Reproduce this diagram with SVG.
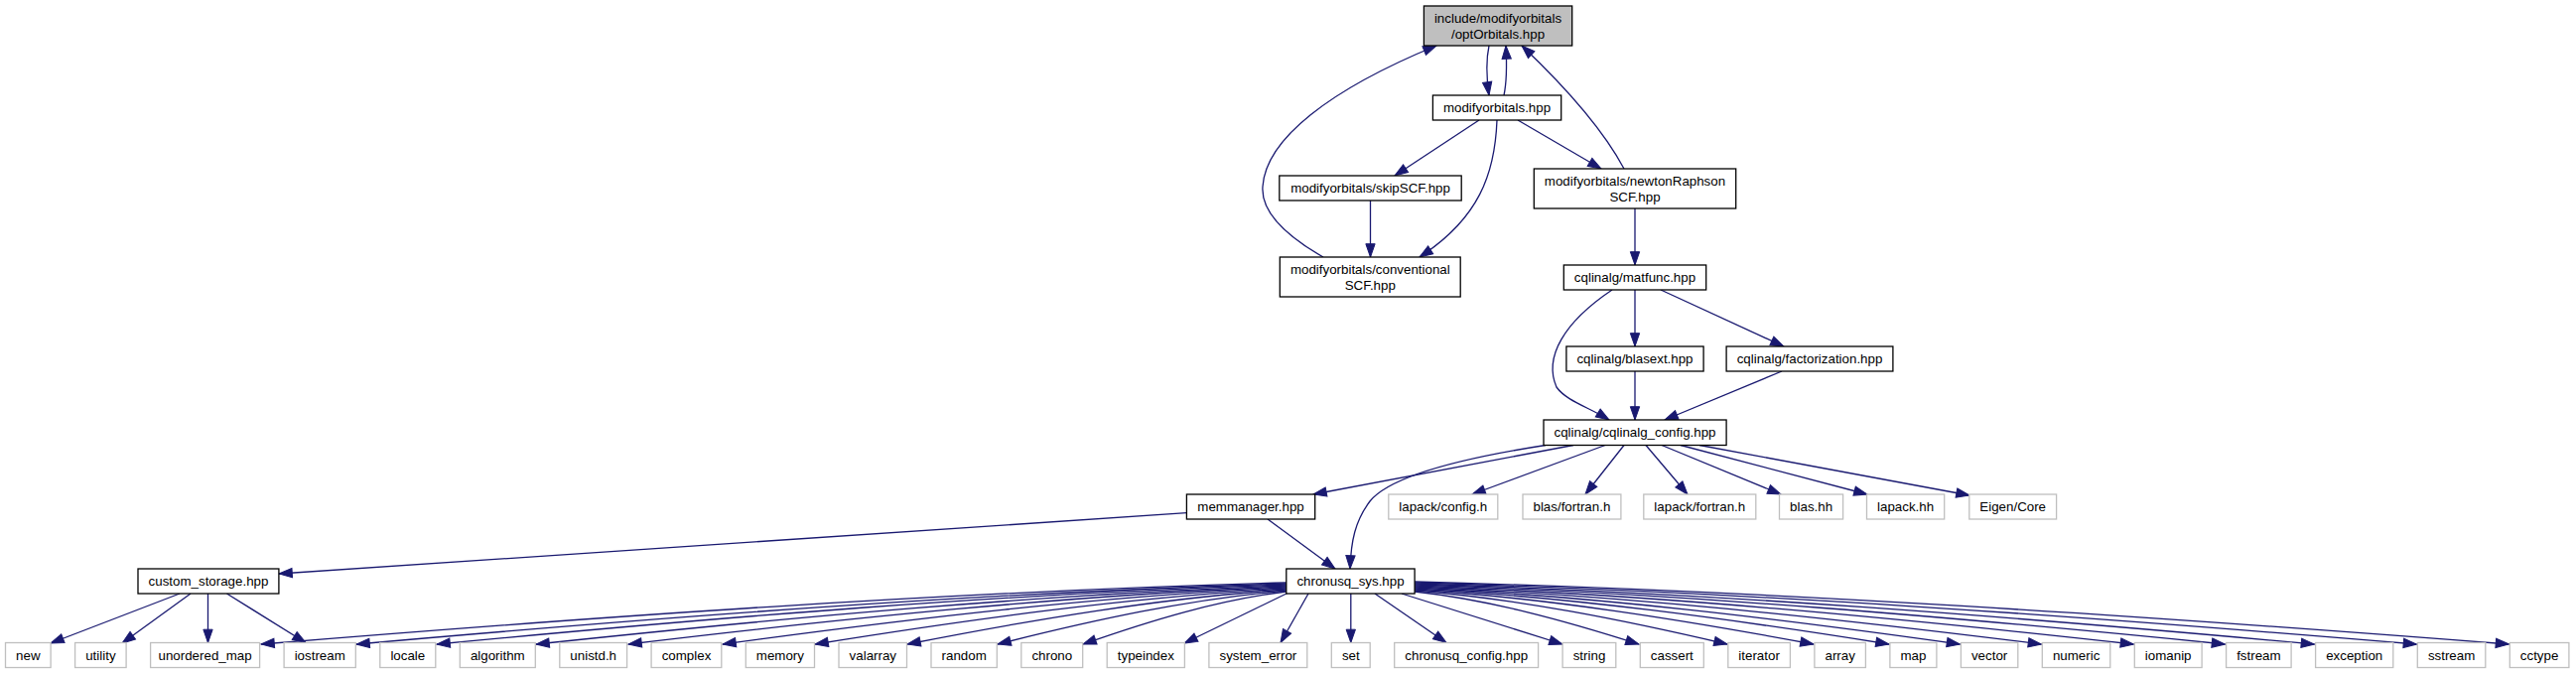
<svg xmlns="http://www.w3.org/2000/svg" width="2595" height="679" viewBox="0 0 2595 679">
<style>
text{font-family:"Liberation Sans",Arial,Helvetica,sans-serif;font-size:13.33px;fill:#000;text-anchor:middle}
.d{fill:#fff;stroke:#000;stroke-width:1.3}
.r{fill:#bfbfbf;stroke:#000;stroke-width:1.3}
.u{fill:#fff;stroke:#bfbfbf;stroke-width:1.3}
#edges path{fill:none;stroke:#191970;stroke-width:1.3;marker-end:url(#ah)}
</style>
<defs>
<marker id="ah" markerUnits="userSpaceOnUse" markerWidth="16" markerHeight="12" refX="13.3" refY="4.65" orient="auto" overflow="visible">
<path d="M0,0 L13.3,4.65 L0,9.3 z" fill="#191970" stroke="#191970" stroke-width="1"/>
</marker>
</defs>
<rect width="2595" height="679" fill="#fff"/>
<g id="edges">
<path d="M1500,46 C1497,60 1497,75 1500,96"/>
<path d="M1515,96 C1518,82 1518,65 1517,46"/>
<path d="M1333,259 C1300,240 1270,215 1272,188 C1275,140 1340,90 1447,46"/>
<path d="M1636,170 C1620,140 1590,100 1533,46"/>
<path d="M1490,121 L1405,177"/>
<path d="M1508,121 C1506,175 1490,220 1430,259"/>
<path d="M1529,121 L1613,170"/>
<path d="M1380.5,202 L1380.5,259"/>
<path d="M1647,210 L1647,267"/>
<path d="M1647,292 L1647,349"/>
<path d="M1673,292 L1797,349"/>
<path d="M1624,292 C1575,325 1555,360 1568,390 C1578,404 1600,410 1621,423"/>
<path d="M1647,374 L1647,423"/>
<path d="M1795,374 L1677,423"/>
<path d="M1585,448.5 L1323,498"/>
<path d="M1557,448.5 C1470,462 1400,480 1380,505 C1365,525 1361,545 1360,573"/>
<path d="M1617,448.5 L1483,498"/>
<path d="M1636,448.5 L1597,498"/>
<path d="M1658,448.5 L1700,498"/>
<path d="M1674,448.5 L1794,498"/>
<path d="M1693,448.5 L1881,498"/>
<path d="M1712,448.5 L1984,499"/>
<path d="M1195.4,516.7 L281,578"/>
<path d="M1277,523 L1345,573"/>
<path d="M181,598 L51,648"/>
<path d="M192,598 L123,648"/>
<path d="M209.5,598 L209.5,647.5"/>
<path d="M228.5,598 L308,647.5"/>
<path d="M1296,587 C955.1,596.3 603.9,621.1 263,649"/>
<path d="M1296,588 C986.8,597.2 668.2,621.6 359,649"/>
<path d="M1296,589 C1013.5,598 722.5,622 440,649"/>
<path d="M1296,590 C1046.5,598.9 789.5,622.5 540,649"/>
<path d="M1296,591 C1077.2,599.7 851.8,622.9 633,649"/>
<path d="M1296,592 C1108.6,600.6 915.4,623.4 728,649"/>
<path d="M1296,593 C1139.3,601.4 977.8,623.8 821,649"/>
<path d="M1296,594 C1170,602.3 1040,624.3 914,649"/>
<path d="M1296,595 C1200,603.1 1101,624.7 1005,649"/>
<path d="M1296,596 C1228.4,604 1158.7,625.2 1091,649"/>
<path d="M1298,597 L1193,648"/>
<path d="M1318,598 L1290,647.5"/>
<path d="M1360.8,598 L1360.8,647.5"/>
<path d="M1385,598 L1457,647.5"/>
<path d="M1412,598 L1574,649"/>
<path d="M1425,596 C1499.6,604 1576.4,625.2 1651,649"/>
<path d="M1425,595 C1529,603.1 1636,624.7 1740,649"/>
<path d="M1425,594 C1557.7,602.3 1694.3,624.3 1827,649"/>
<path d="M1425,593 C1582.7,601.4 1745.3,623.8 1903,649"/>
<path d="M1425,592 C1606.3,600.6 1793.2,623.4 1974.5,649"/>
<path d="M1425,591 C1633.4,599.7 1848.1,622.9 2056.5,649"/>
<path d="M1425,590 C1664.1,598.9 1910.4,622.5 2149.5,649"/>
<path d="M1425,589 C1694.4,598 1972,622 2241.5,649"/>
<path d="M1425,588 C1724.1,597.2 2032.4,621.6 2331.5,649"/>
<path d="M1425,587 C1758.1,596.3 2101.4,621.1 2434.5,649"/>
<path d="M1425,586 C1788.8,595.5 2163.7,620.7 2527.5,649"/>
</g>
<g id="n_opt"><rect class="r" x="1434.4" y="6" width="149.3" height="40"/><text x="1509" y="22.5">include/modifyorbitals</text><text x="1509" y="38.5">/optOrbitals.hpp</text></g>
<g id="n_modorb"><rect class="d" x="1443.4" y="96" width="129.3" height="25"/><text x="1508" y="113.2">modifyorbitals.hpp</text></g>
<g id="n_skip"><rect class="d" x="1288.8" y="177" width="183.4" height="25"/><text x="1380.5" y="194.2">modifyorbitals/skipSCF.hpp</text></g>
<g id="n_newton"><rect class="d" x="1545.3" y="170" width="203.4" height="40"/><text x="1647" y="186.5">modifyorbitals/newtonRaphson</text><text x="1647" y="202.5">SCF.hpp</text></g>
<g id="n_conv"><rect class="d" x="1289.3" y="259" width="181.9" height="40"/><text x="1380.3" y="275.5">modifyorbitals/conventional</text><text x="1380.3" y="291.5">SCF.hpp</text></g>
<g id="n_matfunc"><rect class="d" x="1575.3" y="267" width="143.4" height="25"/><text x="1647" y="284.2">cqlinalg/matfunc.hpp</text></g>
<g id="n_blasext"><rect class="d" x="1577.9" y="349" width="138.2" height="25"/><text x="1647" y="366.2">cqlinalg/blasext.hpp</text></g>
<g id="n_fact"><rect class="d" x="1739.1" y="349" width="167.8" height="25"/><text x="1823" y="366.2">cqlinalg/factorization.hpp</text></g>
<g id="n_cqcfg"><rect class="d" x="1555" y="423" width="184.1" height="25.5"/><text x="1647" y="440.4">cqlinalg/cqlinalg_config.hpp</text></g>
<g id="n_mem"><rect class="d" x="1195.4" y="498" width="129.3" height="25"/><text x="1260" y="515.2">memmanager.hpp</text></g>
<g id="n_lapcfg"><rect class="u" x="1398.8" y="498" width="110" height="25"/><text x="1453.8" y="515.2">lapack/config.h</text></g>
<g id="n_blasf"><rect class="u" x="1534" y="498" width="98.9" height="25"/><text x="1583.4" y="515.2">blas/fortran.h</text></g>
<g id="n_lapf"><rect class="u" x="1655.8" y="498" width="113" height="25"/><text x="1712.3" y="515.2">lapack/fortran.h</text></g>
<g id="n_blashh"><rect class="u" x="1792.5" y="498" width="64.1" height="25"/><text x="1824.6" y="515.2">blas.hh</text></g>
<g id="n_laphh"><rect class="u" x="1880.5" y="498" width="78.2" height="25"/><text x="1919.6" y="515.2">lapack.hh</text></g>
<g id="n_eigen"><rect class="u" x="1983.8" y="498" width="87.8" height="25"/><text x="2027.7" y="515.2">Eigen/Core</text></g>
<g id="n_cust"><rect class="d" x="139" y="573" width="141.9" height="25"/><text x="210" y="590.2">custom_storage.hpp</text></g>
<g id="n_sys"><rect class="d" x="1295.8" y="573" width="129.3" height="25"/><text x="1360.5" y="590.2">chronusq_sys.hpp</text></g>
<g id="n_new"><rect class="u" x="5.5" y="647.5" width="45.6" height="25"/><text x="28.3" y="664.7">new</text></g>
<g id="n_utility"><rect class="u" x="75.6" y="647.5" width="51.5" height="25"/><text x="101.4" y="664.7">utility</text></g>
<g id="n_umap"><rect class="u" x="151.6" y="647.5" width="110" height="25"/><text x="206.6" y="664.7">unordered_map</text></g>
<g id="n_iostream"><rect class="u" x="286.1" y="647.5" width="72.2" height="25"/><text x="322.2" y="664.7">iostream</text></g>
<g id="n_locale"><rect class="u" x="382.8" y="647.5" width="56" height="25"/><text x="410.8" y="664.7">locale</text></g>
<g id="n_algorithm"><rect class="u" x="463.3" y="647.5" width="76" height="25"/><text x="501.3" y="664.7">algorithm</text></g>
<g id="n_unistd"><rect class="u" x="563.8" y="647.5" width="67.8" height="25"/><text x="597.7" y="664.7">unistd.h</text></g>
<g id="n_complex"><rect class="u" x="656.1" y="647.5" width="70.7" height="25"/><text x="691.5" y="664.7">complex</text></g>
<g id="n_memory"><rect class="u" x="751.3" y="647.5" width="69.2" height="25"/><text x="785.9" y="664.7">memory</text></g>
<g id="n_valarray"><rect class="u" x="845" y="647.5" width="68.5" height="25"/><text x="879.3" y="664.7">valarray</text></g>
<g id="n_random"><rect class="u" x="938" y="647.5" width="66.3" height="25"/><text x="971.2" y="664.7">random</text></g>
<g id="n_chrono"><rect class="u" x="1028.8" y="647.5" width="61.9" height="25"/><text x="1059.8" y="664.7">chrono</text></g>
<g id="n_typeindex"><rect class="u" x="1115.2" y="647.5" width="78.2" height="25"/><text x="1154.3" y="664.7">typeindex</text></g>
<g id="n_syserr"><rect class="u" x="1217.9" y="647.5" width="98.9" height="25"/><text x="1267.4" y="664.7">system_error</text></g>
<g id="n_set"><rect class="u" x="1341.3" y="647.5" width="38.9" height="25"/><text x="1360.8" y="664.7">set</text></g>
<g id="n_cqconfig"><rect class="u" x="1404.7" y="647.5" width="144.9" height="25"/><text x="1477.2" y="664.7">chronusq_config.hpp</text></g>
<g id="n_string"><rect class="u" x="1574.1" y="647.5" width="53.7" height="25"/><text x="1601" y="664.7">string</text></g>
<g id="n_cassert"><rect class="u" x="1652.3" y="647.5" width="64" height="25"/><text x="1684.3" y="664.7">cassert</text></g>
<g id="n_iterator"><rect class="u" x="1740.8" y="647.5" width="62.6" height="25"/><text x="1772.1" y="664.7">iterator</text></g>
<g id="n_array"><rect class="u" x="1827.9" y="647.5" width="51.5" height="25"/><text x="1853.7" y="664.7">array</text></g>
<g id="n_map"><rect class="u" x="1903.9" y="647.5" width="47" height="25"/><text x="1927.4" y="664.7">map</text></g>
<g id="n_vector"><rect class="u" x="1975.4" y="647.5" width="57.4" height="25"/><text x="2004.1" y="664.7">vector</text></g>
<g id="n_numeric"><rect class="u" x="2057.3" y="647.5" width="68.5" height="25"/><text x="2091.6" y="664.7">numeric</text></g>
<g id="n_iomanip"><rect class="u" x="2150.3" y="647.5" width="67.8" height="25"/><text x="2184.2" y="664.7">iomanip</text></g>
<g id="n_fstream"><rect class="u" x="2242.6" y="647.5" width="65.5" height="25"/><text x="2275.4" y="664.7">fstream</text></g>
<g id="n_exception"><rect class="u" x="2332.6" y="647.5" width="78.2" height="25"/><text x="2371.7" y="664.7">exception</text></g>
<g id="n_sstream"><rect class="u" x="2435.3" y="647.5" width="68.5" height="25"/><text x="2469.6" y="664.7">sstream</text></g>
<g id="n_cctype"><rect class="u" x="2528.3" y="647.5" width="59.6" height="25"/><text x="2558.1" y="664.7">cctype</text></g>
</svg>
